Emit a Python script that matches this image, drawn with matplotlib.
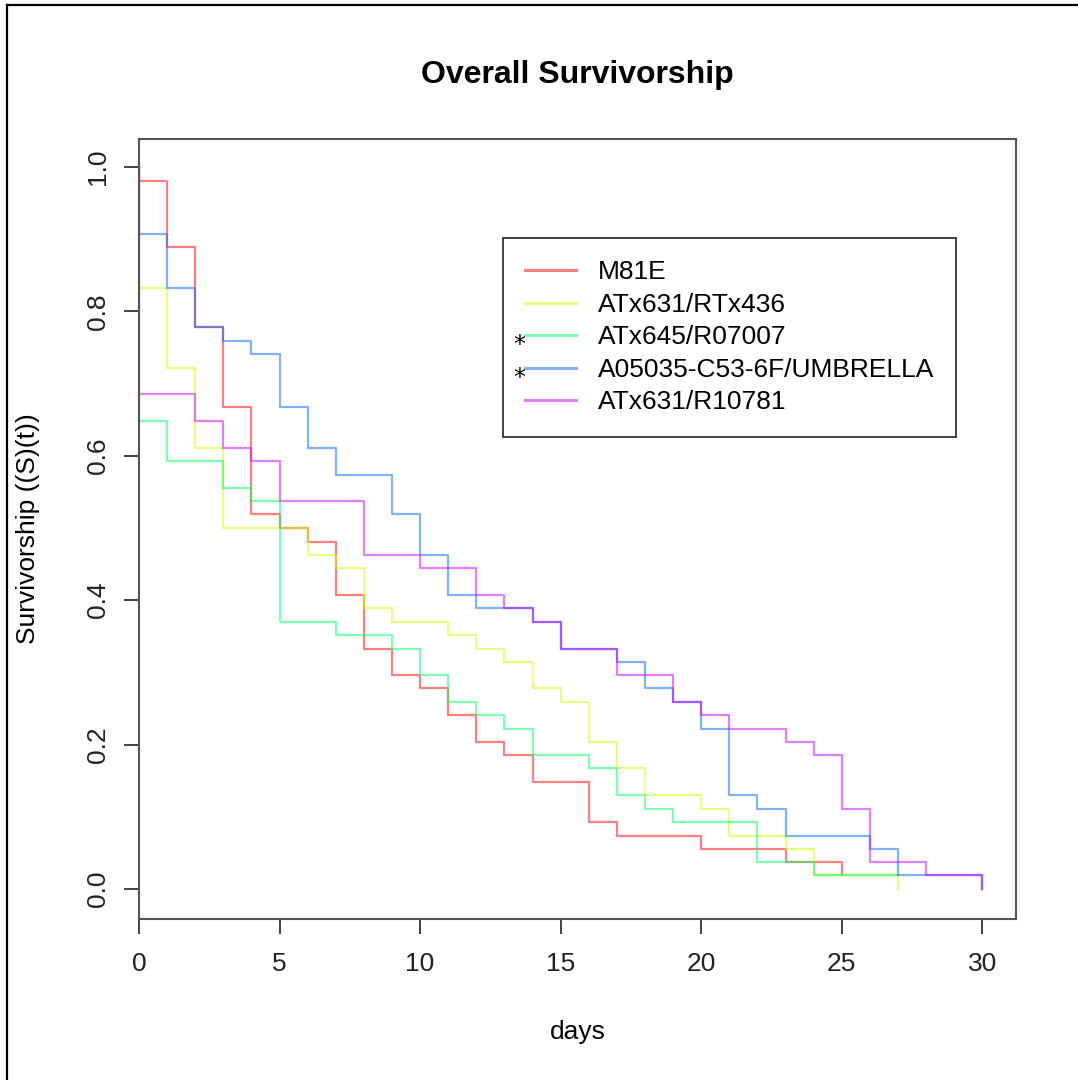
import matplotlib
matplotlib.use("Agg")
import matplotlib.pyplot as plt
from matplotlib.lines import Line2D

plt.rcParams['font.family'] = ['Liberation Sans', 'DejaVu Sans']

# Kaplan-Meier style steps: event day and survival level after that day
labels = ['M81E', 'ATx631/RTx436', 'ATx645/R07007',
          'A05035-C53-6F/UMBRELLA', 'ATx631/R10781']
colors = ['#FF0000', '#CCFF00', '#00FF66', '#0066FF', '#CC00FF']
starred = [False, False, True, True, False]

red_days = [0, 1, 2, 3, 4, 5, 6, 7, 8, 9, 10, 11, 12, 13, 14, 16, 17, 20, 23, 25]
red_surv = [0.981, 0.889, 0.778, 0.667, 0.519, 0.500, 0.481, 0.407, 0.333, 0.296,
            0.278, 0.241, 0.204, 0.185, 0.148, 0.093, 0.074, 0.056, 0.037, 0.019]
red_end = 25

yel_days = [0, 1, 2, 3, 6, 7, 8, 9, 11, 12, 13, 14, 15, 16, 17, 18, 20, 21, 23, 24, 27]
yel_surv = [0.833, 0.722, 0.611, 0.500, 0.463, 0.444, 0.389, 0.370, 0.352, 0.333,
            0.315, 0.278, 0.259, 0.204, 0.167, 0.130, 0.111, 0.074, 0.056, 0.019, 0.0]
yel_end = 27

grn_days = [0, 1, 3, 4, 5, 7, 9, 10, 11, 12, 13, 14, 16, 17, 18, 19, 22, 24]
grn_surv = [0.648, 0.593, 0.556, 0.537, 0.370, 0.352, 0.333, 0.296, 0.259, 0.241,
            0.222, 0.185, 0.167, 0.130, 0.111, 0.093, 0.037, 0.019]
grn_end = 27

blu_days = [0, 1, 2, 3, 4, 5, 6, 7, 9, 10, 11, 12, 14, 15, 17, 18, 19, 20, 21, 22,
            23, 26, 27, 30]
blu_surv = [0.907, 0.833, 0.778, 0.759, 0.741, 0.667, 0.611, 0.574, 0.519, 0.463,
            0.407, 0.389, 0.370, 0.333, 0.315, 0.278, 0.259, 0.222, 0.130, 0.111,
            0.074, 0.056, 0.019, 0.0]
blu_end = 30

pur_days = [0, 2, 3, 4, 5, 8, 10, 12, 13, 14, 15, 17, 19, 20, 21, 23, 24, 25, 26, 28, 30]
pur_surv = [0.685, 0.648, 0.611, 0.593, 0.537, 0.463, 0.444, 0.407, 0.389, 0.370,
            0.333, 0.296, 0.259, 0.241, 0.222, 0.204, 0.185, 0.111, 0.037, 0.019, 0.0]
pur_end = 30

series = [(red_days, red_surv, red_end), (yel_days, yel_surv, yel_end),
          (grn_days, grn_surv, grn_end), (blu_days, blu_surv, blu_end),
          (pur_days, pur_surv, pur_end)]

fig = plt.figure(figsize=(10.78, 10.8), dpi=100)
ax = fig.add_axes([139 / 1078, 1 - 919 / 1080, (1016 - 139) / 1078, (919 - 139) / 1080])

for (days, surv, end), col, lab in zip(series, colors, labels):
    x = [0] + days + [end]
    y = [1.0] + surv + [surv[-1]]
    ax.step(x, y, where='post', color=col, alpha=0.5, lw=1.6, label=lab)

ax.set_xlim(0, 31.2)
ax.set_ylim(-0.0416, 1.0388)
ax.set_xticks([0, 5, 10, 15, 20, 25, 30])
ax.set_yticks([0.0, 0.2, 0.4, 0.6, 0.8, 1.0])
ax.set_yticklabels(['0.0', '0.2', '0.4', '0.6', '0.8', '1.0'], rotation=90, va='center')
ax.tick_params(axis='both', direction='out', length=11, width=1.3, colors='#333333',
               labelsize=19, labelcolor='#222222')
ax.tick_params(axis='x', pad=13)
ax.tick_params(axis='y', pad=10)
for sp in ax.spines.values():
    sp.set_color('#555555')
    sp.set_linewidth(1.5)

ax.set_title('Overall Survivorship', fontsize=23, fontweight='bold', pad=40)
ax.set_xlabel('days', fontsize=19)
ax.set_ylabel('Survivorship ((S)(t))', fontsize=19)
ax.xaxis.set_label_coords(0.5, (919 - 1020) / 780)
ax.yaxis.set_label_coords((40 - 139) / 877, 0.5)

leg = ax.legend(loc='upper left', bbox_to_anchor=((503 - 139) / 877, (919 - 238) / 780),
                borderaxespad=0, fontsize=19, fancybox=False, edgecolor='#222222',
                framealpha=1, borderpad=0.85, labelspacing=0.32, handlelength=1.9,
                handletextpad=0.83)
leg.get_frame().set_linewidth(1.2)
for h in leg.get_lines():
    h.set_linewidth(2.2)

# asterisks for the marked lines, placed next to the legend rows
fig.canvas.draw()
renderer = fig.canvas.get_renderer()
for txt, star in zip(leg.get_texts(), starred):
    if star:
        bb = txt.get_window_extent(renderer)
        ycen = (bb.y0 + bb.y1) / 2
        fig.text(519 / 1078, (ycen - 8) / 1080, '*', fontsize=17, ha='center', va='center',
                 family='DejaVu Sans')

# outer frame of the screenshot
fig.add_artist(Line2D([7 / 1078, 7 / 1078], [0, 1075 / 1080], color='black', lw=1.6,
                      transform=fig.transFigure))
fig.add_artist(Line2D([7 / 1078, 1], [1075 / 1080, 1075 / 1080], color='black', lw=1.6,
                      transform=fig.transFigure))

fig.savefig('out.png', dpi=100)
